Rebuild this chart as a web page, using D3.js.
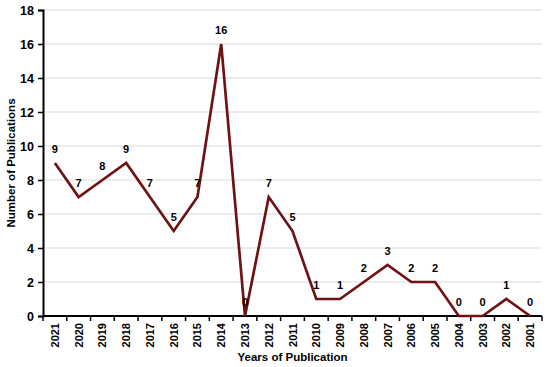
<!DOCTYPE html>
<html>
<head>
<meta charset="utf-8">
<script src="https://cdn.jsdelivr.net/npm/d3@7"></script>
<style>
  body { margin: 0; background: #fff; }
  text { font-family: "Liberation Sans", Arial, sans-serif; font-weight: bold; fill: #000; }
</style>
</head>
<body>
<svg width="550" height="367"></svg>
<script>
var years = ['2021','2020','2019','2018','2017','2016','2015','2014','2013','2012','2011',
             '2010','2009','2008','2007','2006','2005','2004','2003','2002','2001'];
var counts = [9, 7, 8, 9, 7, 5, 7, 16, 0, 7, 5, 1, 1, 2, 3, 2, 2, 0, 0, 1, 0];
var yTicks = [0, 2, 4, 6, 8, 10, 12, 14, 16, 18];

var svg = d3.select('svg');
var padding = {t: 10, r: 8, b: 51, l: 43};
var width = 550 - padding.l - padding.r;
var height = 367 - padding.t - padding.b;

var chartG = svg.append('g')
    .attr('transform', 'translate(' + [padding.l, padding.t] + ')');

var xScale = d3.scaleBand().domain(years).range([0, width]);
var yScale = d3.scaleLinear().domain([0, 18]).range([height, 0]);

// gridlines
chartG.selectAll('.grid')
    .data(yTicks.filter(function(d) { return d > 0; }))
    .enter().append('line')
    .attr('x1', 0).attr('x2', width)
    .attr('y1', function(d) { return yScale(d); })
    .attr('y2', function(d) { return yScale(d); })
    .attr('stroke', '#d9d9d9').attr('stroke-width', 1);

// y axis
var yAxisG = chartG.append('g')
    .call(d3.axisLeft(yScale).tickValues(yTicks).tickSize(5).tickPadding(4));
yAxisG.select('.domain').attr('stroke', '#000').attr('stroke-width', 2);
yAxisG.selectAll('.tick line').attr('stroke', '#000').attr('stroke-width', 1.5);
yAxisG.selectAll('text').style('font-size', '12.5px').style('font-family', null);

// x axis: ticks between categories
var xAxisG = chartG.append('g')
    .attr('transform', 'translate(0,' + height + ')');
xAxisG.append('line')
    .attr('x1', 0).attr('x2', width)
    .attr('stroke', '#000').attr('stroke-width', 2);
xAxisG.selectAll('.xtick')
    .data(years.concat(['end']))
    .enter().append('line')
    .attr('x1', function(d, i) { return i * xScale.step(); })
    .attr('x2', function(d, i) { return i * xScale.step(); })
    .attr('y1', 0).attr('y2', 5)
    .attr('stroke', '#000').attr('stroke-width', 1.5);
xAxisG.selectAll('.xlabel')
    .data(years)
    .enter().append('text')
    .attr('transform', function(d) {
        return 'translate(' + [xScale(d) + xScale.bandwidth() / 2 + 4, 7] + ')rotate(-90)';
    })
    .attr('text-anchor', 'end')
    .style('font-size', '11px')
    .text(function(d) { return d; });

// line
var line = d3.line()
    .x(function(d, i) { return xScale(years[i]) + xScale.bandwidth() / 2; })
    .y(function(d) { return yScale(d); });

chartG.append('path')
    .datum(counts)
    .attr('d', line)
    .attr('fill', 'none')
    .attr('stroke', '#701214')
    .attr('stroke-width', 2.7)
    .attr('stroke-linejoin', 'miter');

// data labels
chartG.selectAll('.dlabel')
    .data(counts)
    .enter().append('text')
    .attr('x', function(d, i) { return xScale(years[i]) + xScale.bandwidth() / 2; })
    .attr('y', function(d) { return yScale(d) - 10; })
    .attr('text-anchor', 'middle')
    .style('font-size', '11px')
    .text(function(d) { return d; });

// axis titles
svg.append('text')
    .attr('x', padding.l + width / 2)
    .attr('y', 361)
    .attr('text-anchor', 'middle')
    .style('font-size', '11.5px')
    .text('Years of Publication');

svg.append('text')
    .attr('transform', 'translate(' + [15, padding.t + height / 2] + ')rotate(-90)')
    .attr('text-anchor', 'middle')
    .style('font-size', '11.5px')
    .text('Number of Publications');
</script>
</body>
</html>
